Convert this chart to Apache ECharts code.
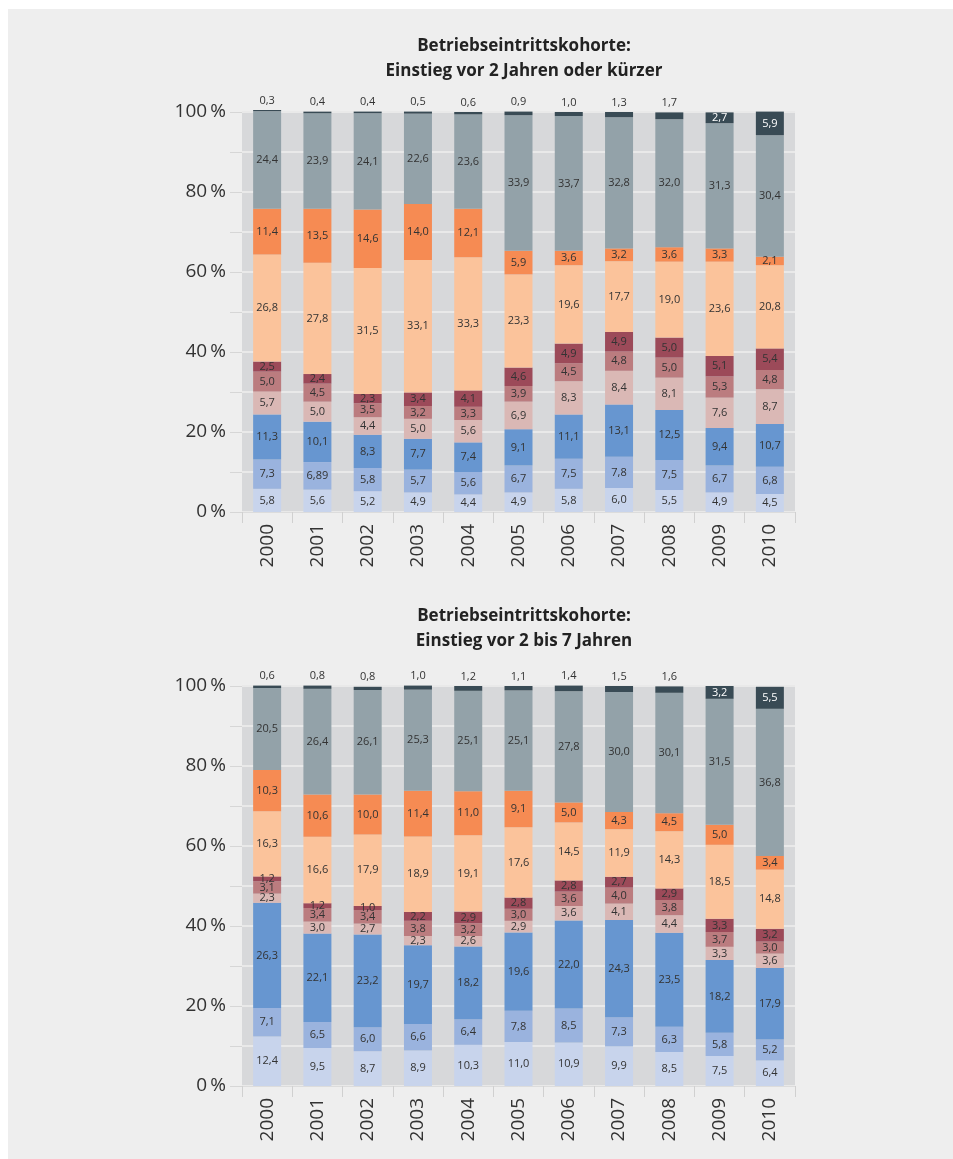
<!DOCTYPE html>
<html>
<head>
<meta charset="utf-8">
<script src="https://cdn.jsdelivr.net/npm/echarts@6/dist/echarts.min.js"></script>
<style>
html,body{margin:0;padding:0;background:#fff;}
#main{width:953px;height:1159px;}
</style>
</head>
<body>
<div id="main"></div>
<script>
var years=['2000','2001','2002','2003','2004','2005','2006','2007','2008','2009','2010'];
var yTicks=[0,20,40,60,80,100];

var segColors=['#c8d4ec','#9ab3de','#6796d0','#dab8b5','#bb7c7f','#9c4a59','#fbc39b','#f68b53','#93a2a9','#394b55'];

// Einstieg vor 2 Jahren oder kürzer (von unten nach oben)
var a1=[5.8,5.6,5.2,4.9,4.4,4.9,5.8,6.0,5.5,4.9,4.5];
var a2=[7.3,6.89,5.8,5.7,5.6,6.7,7.5,7.8,7.5,6.7,6.8];
var a3=[11.3,10.1,8.3,7.7,7.4,9.1,11.1,13.1,12.5,9.4,10.7];
var a4=[5.7,5.0,4.4,5.0,5.6,6.9,8.3,8.4,8.1,7.6,8.7];
var a5=[5.0,4.5,3.5,3.2,3.3,3.9,4.5,4.8,5.0,5.3,4.8];
var a6=[2.5,2.4,2.3,3.4,4.1,4.6,4.9,4.9,5.0,5.1,5.4];
var a7=[26.8,27.8,31.5,33.1,33.3,23.3,19.6,17.7,19.0,23.6,20.8];
var a8=[11.4,13.5,14.6,14.0,12.1,5.9,3.6,3.2,3.6,3.3,2.1];
var a9=[24.4,23.9,24.1,22.6,23.6,33.9,33.7,32.8,32.0,31.3,30.4];
var a10=[0.3,0.4,0.4,0.5,0.6,0.9,1.0,1.3,1.7,2.7,5.9];

// Einstieg vor 2 bis 7 Jahren
var b1=[12.4,9.5,8.7,8.9,10.3,11.0,10.9,9.9,8.5,7.5,6.4];
var b2=[7.1,6.5,6.0,6.6,6.4,7.8,8.5,7.3,6.3,5.8,5.2];
var b3=[26.3,22.1,23.2,19.7,18.2,19.6,22.0,24.3,23.5,18.2,17.9];
var b4=[2.3,3.0,2.7,2.3,2.6,2.9,3.6,4.1,4.4,3.3,3.6];
var b5=[3.1,3.4,3.4,3.8,3.2,3.0,3.6,4.0,3.8,3.7,3.0];
var b6=[1.2,1.2,1.0,2.2,2.9,2.8,2.8,2.7,2.9,3.3,3.2];
var b7=[16.3,16.6,17.9,18.9,19.1,17.6,14.5,11.9,14.3,18.5,14.8];
var b8=[10.3,10.6,10.0,11.4,11.0,9.1,5.0,4.3,4.5,5.0,3.4];
var b9=[20.5,26.4,26.1,25.3,25.1,25.1,27.8,30.0,30.1,31.5,36.8];
var b10=[0.6,0.8,0.8,1.0,1.2,1.1,1.4,1.5,1.6,3.2,5.5];

var setA=[a1,a2,a3,a4,a5,a6,a7,a8,a9,a10];
var setB=[b1,b2,b3,b4,b5,b6,b7,b8,b9,b10];

var FONT='"Open Sans", sans-serif';

// deutsche Schreibweise, mindestens eine Nachkommastelle
function fmt(v){
    var s=String(v);
    if(s.indexOf('.')<0) s=v.toFixed(1);
    return s.replace('.',',');
}

function makeSeries(set, idx){
    var out=[];
    for(var i=0;i<set.length;i++){
        var isTop=(i===set.length-1);
        var data=set[i].map(function(v){
            var d={value:v};
            if(isTop){
                if(v<2){
                    d.label={position:'top',distance:4,color:'#333'};
                }else{
                    d.label={position:'inside',color:'#fff'};
                }
            }
            return d;
        });
        out.push({
            type:'bar',
            stack:'s'+idx,
            xAxisIndex:idx,
            yAxisIndex:idx,
            barWidth:28,
            clip:false,
            itemStyle:{color:segColors[i]},
            label:{
                show:true,
                position:'inside',
                color:'#333',
                fontFamily:FONT,
                fontSize:11,
                formatter:function(p){ return fmt(p.value); }
            },
            data:data
        });
    }
    return out;
}

function xAx(idx){
    return {
        type:'category',
        gridIndex:idx,
        data:years,
        axisLine:{show:true,lineStyle:{color:'#dcdcdc',width:1}},
        axisTick:{show:true,length:11,lineStyle:{color:'#d0d0d0'}},
        axisLabel:{rotate:90,fontFamily:FONT,fontSize:19,color:'#333',margin:12}
    };
}
function yAx(idx){
    return {
        type:'value',
        gridIndex:idx,
        min:0,max:100,interval:10,
        axisLine:{show:false},
        axisTick:{show:true,length:12,lineStyle:{color:'#d6d6d6'}},
        splitLine:{show:true,lineStyle:{color:'#e9e9e9',width:2}},
        axisLabel:{
            fontFamily:FONT,fontSize:19,color:'#333',margin:16,
            formatter:function(v){ return yTicks.indexOf(v)>=0 ? v+'\u2009%' : ''; }
        }
    };
}

var chart=echarts.init(document.getElementById('main'));
var option={
    backgroundColor:'#fff',
    animation:false,
    graphic:[{type:'rect',shape:{x:8,y:9,width:945,height:1150},style:{fill:'#eeeeee'},z:-10}],
    title:[
        {text:'Betriebseintrittskohorte:\nEinstieg vor 2 Jahren oder kürzer',left:519,top:29,textAlign:'center',
         textStyle:{fontFamily:FONT,fontWeight:'bold',fontSize:17,color:'#222',lineHeight:25}},
        {text:'Betriebseintrittskohorte:\nEinstieg vor 2 bis 7 Jahren',left:519,top:599,textAlign:'center',
         textStyle:{fontFamily:FONT,fontWeight:'bold',fontSize:17,color:'#222',lineHeight:25}}
    ],
    grid:[
        {left:242,width:553,top:112,height:400,show:true,backgroundColor:'#d7d8da',borderWidth:0},
        {left:242,width:553,top:686,height:400,show:true,backgroundColor:'#d7d8da',borderWidth:0}
    ],
    xAxis:[xAx(0),xAx(1)],
    yAxis:[yAx(0),yAx(1)],
    series:makeSeries(setA,0).concat(makeSeries(setB,1))
};
chart.setOption(option);
</script>
</body>
</html>
